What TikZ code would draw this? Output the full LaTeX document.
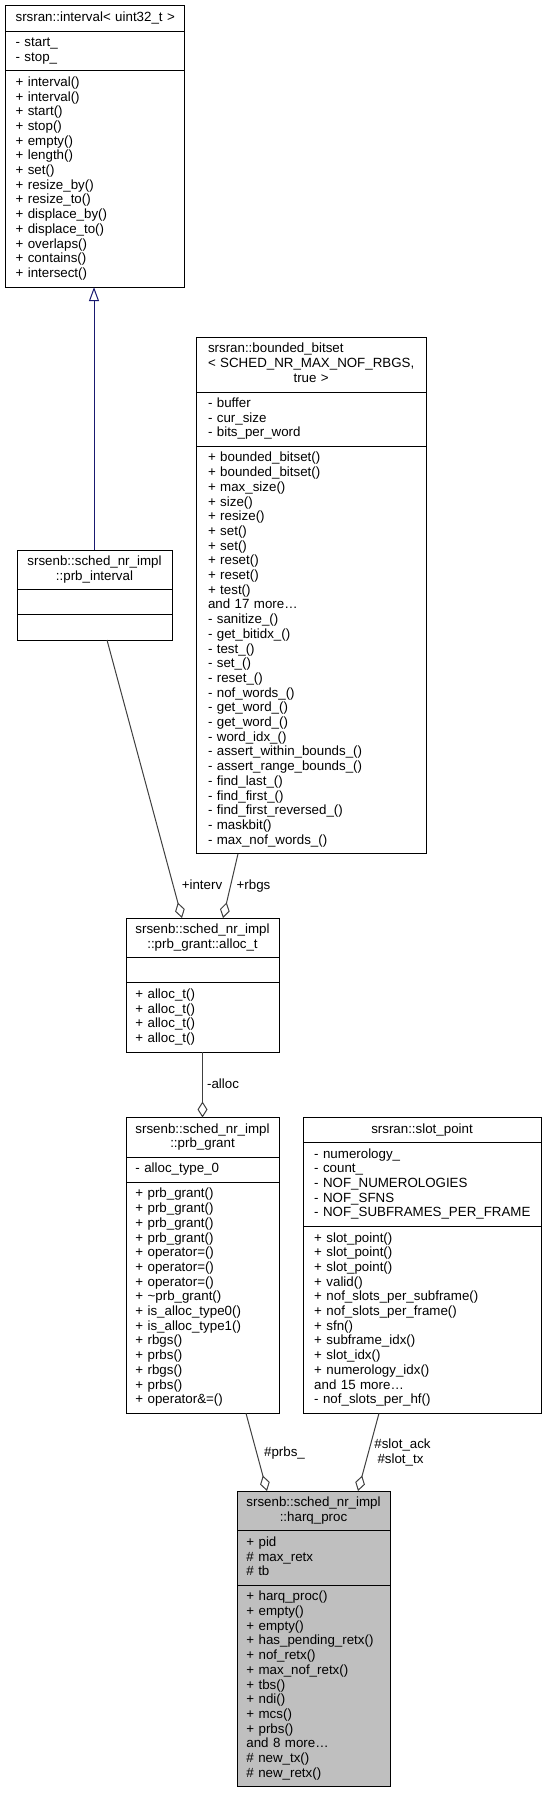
\documentclass[tikz,border=0pt]{standalone}
\usepackage{fontspec}
\setmainfont{Liberation Sans}
\usetikzlibrary{arrows.meta}
\definecolor{edgegray}{HTML}{404040}
\definecolor{inhblue}{HTML}{191970}
\definecolor{harqfill}{HTML}{BFBFBF}
\newcommand\Lst[1]{\begin{tabular}{@{}l@{}}#1\end{tabular}}
\newcommand\Ctr[1]{\begin{tabular}{@{}c@{}}#1\end{tabular}}
\begin{document}
\begin{tikzpicture}[x=1pt,y=-1pt,
  every node/.style={font=\fontsize{13.33}{14.7}\selectfont},
  sec/.style={draw=black, line width=1pt, fill=white, anchor=north west, outer sep=0pt,
    inner ysep=0pt, align=left, minimum height={#1*14.7pt+10.4pt}},
  ttl/.style={sec=#1, align=center},
  aggr/.style={draw=edgegray, line width=1pt, -{Diamond[fill=white,length=16pt,width=10pt]}},
  inh/.style={draw=inhblue, line width=1pt, -{Triangle[fill=white,length=14pt,width=10pt]}},
  lbl/.style={inner sep=0pt, anchor=base, text=black}]
\useasboundingbox (0,0) rectangle (547,1793);
\fill[white] (0,0) rectangle (547,1793);

% srsran::interval
\node[ttl=1, inner xsep=10.6pt, text width=157.8pt] (int1) at (5,6) {\Ctr{srsran::interval< uint32\_t >}};
\node[sec=2, inner xsep=10.6pt, text width=157.8pt] (int2) at (int1.south west) {\Lst{- start\_\\- stop\_}};
\node[sec=14, inner xsep=10.6pt, text width=157.8pt] (int3) at (int2.south west) {\Lst{+ interval()\\+ interval()\\+ start()\\+ stop()\\+ empty()\\+ length()\\+ set()\\+ resize\_by()\\+ resize\_to()\\+ displace\_by()\\+ displace\_to()\\+ overlaps()\\+ contains()\\+ intersect()}};

% srsran::bounded_bitset
\node[sec=3, inner xsep=12pt, text width=206pt] (bits1) at (196,337.5) {\begin{tabular}{@{}l@{}}srsran::bounded\_bitset\\< SCHED\_NR\_MAX\_NOF\_RBGS,\\\multicolumn{1}{@{}c@{}}{true >}\end{tabular}};
\node[sec=3, inner xsep=12pt, text width=206pt] (bits2) at (bits1.south west) {\Lst{- buffer\\- cur\_size\\- bits\_per\_word}};
\node[sec=27, inner xsep=12pt, text width=206pt] (bits3) at (bits2.south west) {\Lst{+ bounded\_bitset()\\+ bounded\_bitset()\\+ max\_size()\\+ size()\\+ resize()\\+ set()\\+ set()\\+ reset()\\+ reset()\\+ test()\\and 17 more…\\- sanitize\_()\\- get\_bitidx\_()\\- test\_()\\- set\_()\\- reset\_()\\- nof\_words\_()\\- get\_word\_()\\- get\_word\_()\\- word\_idx\_()\\- assert\_within\_bounds\_()\\- assert\_range\_bounds\_()\\- find\_last\_()\\- find\_first\_()\\- find\_first\_reversed\_()\\- maskbit()\\- max\_nof\_words\_()}};

% prb_interval
\node[ttl=2, inner xsep=10.4pt, text width=134.2pt] (pint1) at (17,550) {\Ctr{srsenb::sched\_nr\_impl\\::prb\_interval}};
\node[sec=1, inner xsep=10.4pt, text width=134.2pt] (pint2) at (pint1.south west) {};
\node[sec=1, inner xsep=10.4pt, text width=134.2pt] (pint3) at (pint2.south west) {};

% alloc_t
\node[ttl=2, inner xsep=9.4pt, text width=134.2pt] (alloc1) at (126,918) {\Ctr{srsenb::sched\_nr\_impl\\::prb\_grant::alloc\_t}};
\node[sec=1, inner xsep=9.4pt, text width=134.2pt] (alloc2) at (alloc1.south west) {};
\node[sec=4, inner xsep=9.4pt, text width=134.2pt] (alloc3) at (alloc2.south west) {\Lst{+ alloc\_t()\\+ alloc\_t()\\+ alloc\_t()\\+ alloc\_t()}};

% prb_grant
\node[ttl=2, inner xsep=9.4pt, text width=134.2pt] (grant1) at (126,1117.5) {\Ctr{srsenb::sched\_nr\_impl\\::prb\_grant}};
\node[sec=1, inner xsep=9.4pt, text width=134.2pt] (grant2) at (grant1.south west) {\Lst{- alloc\_type\_0}};
\node[sec=15, inner xsep=9.4pt, text width=134.2pt] (grant3) at (grant2.south west) {\Lst{+ prb\_grant()\\+ prb\_grant()\\+ prb\_grant()\\+ prb\_grant()\\+ operator=()\\+ operator=()\\+ operator=()\\+ \textasciitilde prb\_grant()\\+ is\_alloc\_type0()\\+ is\_alloc\_type1()\\+ rbgs()\\+ prbs()\\+ rbgs()\\+ prbs()\\+ operator\&=()}};

% slot_point
\node[ttl=1, inner xsep=11.2pt, text width=215.6pt] (slot1) at (303,1117.5) {\Ctr{srsran::slot\_point}};
\node[sec=5, inner xsep=11.2pt, text width=215.6pt] (slot2) at (slot1.south west) {\Lst{- numerology\_\\- count\_\\- NOF\_NUMEROLOGIES\\- NOF\_SFNS\\- NOF\_SUBFRAMES\_PER\_FRAME}};
\node[sec=12, inner xsep=11.2pt, text width=215.6pt] (slot3) at (slot2.south west) {\Lst{+ slot\_point()\\+ slot\_point()\\+ slot\_point()\\+ valid()\\+ nof\_slots\_per\_subframe()\\+ nof\_slots\_per\_frame()\\+ sfn()\\+ subframe\_idx()\\+ slot\_idx()\\+ numerology\_idx()\\and 15 more…\\- nof\_slots\_per\_hf()}};

% harq_proc
\node[ttl=2, fill=harqfill, inner xsep=9.4pt, text width=134.2pt] (harq1) at (237,1491) {\Ctr{srsenb::sched\_nr\_impl\\::harq\_proc}};
\node[sec=3, fill=harqfill, inner xsep=9.4pt, text width=134.2pt] (harq2) at (harq1.south west) {\Lst{+ pid\\\# max\_retx\\\# tb}};
\node[sec=13, fill=harqfill, inner xsep=9.4pt, text width=134.2pt] (harq3) at (harq2.south west) {\Lst{+ harq\_proc()\\+ empty()\\+ empty()\\+ has\_pending\_retx()\\+ nof\_retx()\\+ max\_nof\_retx()\\+ tbs()\\+ ndi()\\+ mcs()\\+ prbs()\\and 8 more…\\\# new\_tx()\\\# new\_retx()}};

% connectors
\draw[inh] ([xshift=77]pint1.north west) -- ([xshift=89]int3.south west);
\draw[aggr] ([xshift=90]pint3.south west) -- ([xshift=56]alloc1.north west);
\draw[aggr] ([xshift=42]bits3.south west) -- ([xshift=97]alloc1.north west);
\draw[aggr] ([xshift=76.5]alloc3.south west) -- ([xshift=76.5]grant1.north west);
\draw[aggr] ([xshift=120]grant3.south west) -- ([xshift=30]harq1.north west);
\draw[aggr] ([xshift=76]slot3.south west) -- ([xshift=121]harq1.north west);

% labels
\node[lbl] (l-interv) at (202,889) {+interv};
\node[lbl] (l-rbgs) at (253.5,889) {+rbgs};
\node[lbl] (l-alloc) at (223,1088.5) {-alloc};
\node[lbl] (l-prbs) at (284.5,1456) {\#prbs\_};
\node[lbl] (l-slotack) at (402.5,1448) {\#slot\_ack};
\node[lbl] (l-slottx) at (400.5,1463) {\#slot\_tx};
\end{tikzpicture}
\end{document}
